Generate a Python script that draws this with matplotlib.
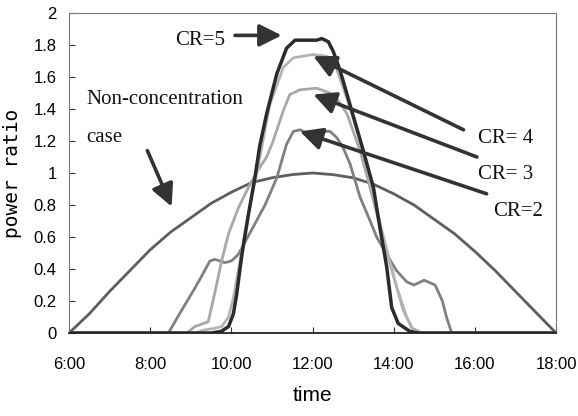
import matplotlib
matplotlib.use("Agg")
import matplotlib.pyplot as plt

# ---- data (hours, power ratio) ----
nc_t = [6.0, 6.5, 7.0, 7.5, 8.0, 8.5, 9.0, 9.5, 10.0, 10.5, 11.0, 11.5, 12.0,
        12.5, 13.0, 13.5, 14.0, 14.5, 15.0, 15.5, 16.0, 16.5, 17.0, 17.5, 18.0]
nc_v = [0.0, 0.12, 0.26, 0.39, 0.52, 0.63, 0.72, 0.81, 0.88, 0.94, 0.97, 0.99, 1.0,
        0.99, 0.97, 0.93, 0.87, 0.8, 0.71, 0.62, 0.51, 0.39, 0.26, 0.13, 0.0]

cr5_t = [6.0, 9.5, 9.75, 9.93, 10.05, 10.13, 10.26, 10.42, 10.58, 10.7, 10.87, 11.12,
         11.36, 11.57, 11.8, 12.1, 12.23, 12.39, 12.51, 12.68, 12.92, 13.25, 13.5,
         13.66, 13.83, 13.95, 14.11, 14.4, 14.6, 18.0]
cr5_v = [0.0, 0.0, 0.01, 0.04, 0.12, 0.24, 0.49, 0.74, 0.97, 1.17, 1.37, 1.62,
         1.78, 1.83, 1.83, 1.83, 1.84, 1.82, 1.76, 1.64, 1.43, 1.14, 0.91,
         0.66, 0.41, 0.16, 0.06, 0.01, 0.0, 0.0]

cr4_t = [6.0, 9.1, 9.35, 9.6, 9.76, 9.93, 10.05, 10.17, 10.34, 10.5, 10.66, 10.95,
         11.28, 11.53, 11.77, 12.0, 12.35, 12.55, 12.76, 12.92, 13.17, 13.42, 13.58,
         13.83, 14.07, 14.32, 14.48, 14.6, 18.0]
cr4_v = [0.0, 0.0, 0.02, 0.03, 0.04, 0.1, 0.22, 0.39, 0.64, 0.85, 1.04, 1.43,
         1.66, 1.72, 1.73, 1.74, 1.73, 1.68, 1.53, 1.41, 1.2, 0.96, 0.77,
         0.52, 0.29, 0.1, 0.02, 0.0, 0.0]

cr3_t = [6.0, 8.9, 9.1, 9.43, 9.6, 9.76, 9.93, 10.17, 10.42, 10.66, 10.87, 11.03,
         11.28, 11.44, 11.69, 12.1, 12.43, 12.64, 12.85, 13.17, 13.5, 13.75, 14.0,
         14.24, 14.45, 14.7, 18.0]
cr3_v = [0.0, 0.0, 0.04, 0.07, 0.26, 0.45, 0.62, 0.78, 0.91, 1.02, 1.1, 1.2,
         1.39, 1.49, 1.52, 1.53, 1.5, 1.45, 1.37, 1.14, 0.83, 0.58, 0.35,
         0.14, 0.03, 0.0, 0.0]

cr2_t = [6.0, 8.45, 8.7, 9.1, 9.3, 9.47, 9.6, 9.84, 10.0, 10.17, 10.34, 10.66, 10.83,
         11.12, 11.36, 11.53, 11.69, 11.94, 12.27, 12.43, 12.6, 12.75, 12.92, 13.17,
         13.42, 13.58, 13.83, 14.07, 14.32, 14.5, 14.75, 15.02, 15.2, 15.3, 15.43, 18.0]
cr2_v = [0.0, 0.0, 0.11, 0.28, 0.37, 0.45, 0.46, 0.44, 0.45, 0.49, 0.57, 0.72, 0.8,
         0.97, 1.18, 1.26, 1.27, 1.24, 1.26, 1.26, 1.22, 1.16, 1.06, 0.85,
         0.7, 0.6, 0.49, 0.39, 0.32, 0.3, 0.33, 0.3, 0.2, 0.1, 0.0, 0.0]

x_ticks = [6, 8, 10, 12, 14, 16, 18]
x_labels = ["6:00", "8:00", "10:00", "12:00", "14:00", "16:00", "18:00"]
y_ticks = [0, 0.2, 0.4, 0.6, 0.8, 1, 1.2, 1.4, 1.6, 1.8, 2]
y_labels = ["0", "0.2", "0.4", "0.6", "0.8", "1", "1.2", "1.4", "1.6", "1.8", "2"]

# annotations: (text, x, y), arrows: (tail, tip)
labels = [("CR=5", 8.61, 1.80), ("Non-concentration", 6.43, 1.43), ("case", 6.43, 1.196),
          ("CR= 4", 16.08, 1.19), ("CR= 3", 16.08, 0.96), ("CR=2", 16.45, 0.73)]
arrows = [((10.09, 1.86), (11.24, 1.86)),
          ((7.93, 1.14), (8.53, 0.79)),
          ((15.72, 1.27), (12.02, 1.73)),
          ((16.05, 1.10), (12.02, 1.49)),
          ((16.29, 0.87), (11.69, 1.26))]

# ---- figure ----
fig = plt.figure(figsize=(5.78, 4.16), dpi=100)
ax = fig.add_axes([0.1194, 0.1995, 0.8426, 0.7693])

ax.plot(nc_t, nc_v, color="#5e5e5e", lw=2.0)
ax.plot(cr2_t, cr2_v, color="#808080", lw=2.0)
ax.plot(cr3_t, cr3_v, color="#a8a8a8", lw=2.0)
ax.plot(cr4_t, cr4_v, color="#b4b4b4", lw=2.0)
ax.plot(cr5_t, cr5_v, color="#2b2b2b", lw=2.5)

ax.set_xlim(6, 18)
ax.set_ylim(0, 2)

tick_font = ["Liberation Sans", "DejaVu Sans"]
ax.set_xticks(x_ticks)
ax.set_xticklabels(x_labels)
ax.set_yticks(y_ticks)
ax.set_yticklabels(y_labels)
ax.tick_params(axis="both", direction="in", length=4, width=0.8, colors="#333333",
               labelcolor="black")
ax.tick_params(axis="x", pad=17, labelsize=12)
ax.tick_params(axis="y", pad=9, labelsize=12)
for lab in ax.get_xticklabels() + ax.get_yticklabels():
    lab.set_family(tick_font)

for side in ["top", "right", "left"]:
    ax.spines[side].set_color("#777777")
    ax.spines[side].set_linestyle((0, (2, 1)))
    ax.spines[side].set_linewidth(0.8)
ax.spines["bottom"].set_color("#222222")
ax.spines["bottom"].set_linewidth(1.3)

ax.set_xlabel("time", fontsize=15, family=tick_font, labelpad=10)
ax.set_ylabel("power ratio", fontsize=14, family="DejaVu Sans Mono", labelpad=8)

for txt, x, y in labels:
    ax.text(x, y, txt, fontsize=15, family="Liberation Serif", ha="left",
            va="baseline", color="#111111")

for tail, tip in arrows:
    ax.annotate("", xy=tip, xytext=tail,
                arrowprops=dict(arrowstyle="-|>,head_length=0.9,head_width=0.45",
                                lw=2.6, color="#333333", shrinkA=0, shrinkB=0,
                                mutation_scale=15))

fig.savefig("out.png", dpi=100)
